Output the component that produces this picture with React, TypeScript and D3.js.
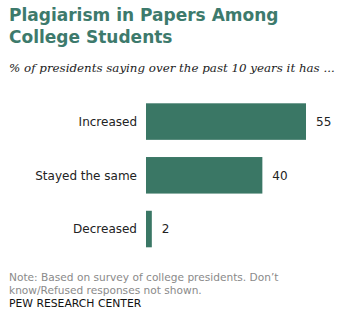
import React from "react";
import * as d3 from "d3";

const categories = ["Increased", "Stayed the same", "Decreased"];
const values = [55, 40, 2];
const titleLines = ["Plagiarism in Papers Among", "College Students"];
const subtitle = "% of presidents saying over the past 10 years it has ...";
const noteLines = ["Note: Based on survey of college presidents. Don\u2019t", "know/Refused responses not shown."];
const source = "PEW RESEARCH CENTER";

export default function App() {
  const W = 346, H = 329;
  const x = d3.scaleLinear().domain([0, 55]).range([146, 306]);
  const bandY = d3.scaleBand().domain(categories).range([103.3, 247.3]).paddingInner(0.32);
  const sans = "Verdana, 'DejaVu Sans', sans-serif";
  return (
    <svg width={W} height={H} style={{ position: "absolute", left: 0, top: 0, background: "#fff" }}>
      <g fill="#3d7a6c" fontFamily={sans} fontWeight="bold" fontSize={17}>
        {titleLines.map((t, i) => (
          <text key={i} x={9} y={20.5 + i * 22}>{t}</text>
        ))}
      </g>
      <text x={9} y={72} fontFamily="Georgia, 'DejaVu Serif', serif" fontStyle="italic" fontSize={11.85} fill="#222">{subtitle}</text>
      <g fontFamily={sans} fontSize={12}>
        {categories.map((c, i) => {
          const by = bandY(c)!;
          const bh = bandY.bandwidth();
          return (
            <g key={c}>
              <rect x={x(0)} y={by} width={x(values[i]) - x(0)} height={bh} fill="#3a7765" />
              <text x={137} y={by + bh / 2} dy="0.35em" textAnchor="end" fill="#222">{c}</text>
              <text x={x(values[i]) + 10} y={by + bh / 2} dy="0.35em" fill="#222">{values[i]}</text>
            </g>
          );
        })}
      </g>
      <g fontFamily={sans} fontSize={10.6} fill="#8a8a8a">
        {noteLines.map((t, i) => (
          <text key={i} x={9} y={281 + i * 12.5}>{t}</text>
        ))}
      </g>
      <text x={9} y={307} fontFamily={sans} fontSize={10.8} fill="#111">{source}</text>
    </svg>
  );
}
